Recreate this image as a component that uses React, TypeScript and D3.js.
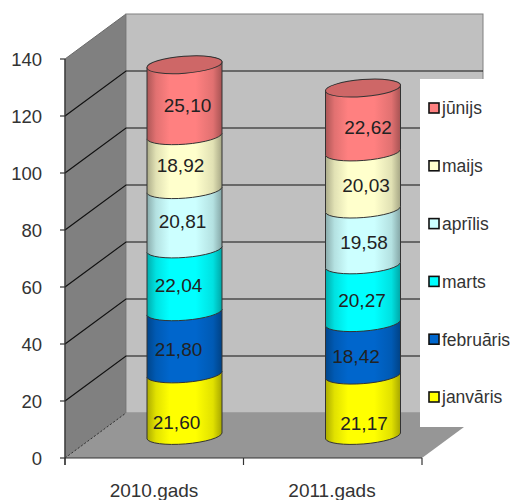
import React from "react";
import * as d3 from "d3";

const years = ["2010.gads", "2011.gads"];
const months = ["janvāris", "februāris", "marts", "aprīlis", "maijs", "jūnijs"];
const values2010 = [21.6, 21.8, 22.04, 20.81, 18.92, 25.1];
const values2011 = [21.17, 18.42, 20.27, 19.58, 20.03, 22.62];
const colors = ["#FFFF00", "#0066CC", "#00FFFF", "#CCFFFF", "#FFFFCC", "#FF8080"];
const yTicks = [0, 20, 40, 60, 80, 100, 120, 140];

// label nudges (layout only), relative to cylinder centre / segment middle
const nudge2010 = [[-8, 17], [-6, 6], [-6, 4], [-2, 1], [-4, 2], [3, 5]];
const nudge2011 = [[1, 17], [-7, 7], [-1, 6], [1, 5], [3, 4], [5, 7]];

const X0 = 65, X1 = 422, DX = 61, DY = 45, Y0 = 458, Y140 = 59, XR = 483;
const y = d3.scaleLinear().domain([0, 140]).range([Y0, Y140]);
const band = d3.scalePoint<string>().domain(years).range([184.5, 363]);
const series = [values2010, values2011];
const nudges = [nudge2010, nudge2011];
const RX = 37.7, RY = 8.5, TILT = -4.5, RISE = 6, HALF = 37.5, FONT = "'Liberation Sans', Arial, sans-serif";
const BASE = 439; // left end of the cylinder foot
const scaleH = (v: number) => Y0 - y(v);

function seg(cx: number, yb: number, yt: number) {
  const L = cx - HALF, R = cx + HALF;
  const arc = `A${RX} ${RY} ${TILT} 0 0`;
  return `M${L} ${yb}${arc} ${R} ${yb - RISE}L${R} ${yt - RISE}${arc} ${L} ${yt}Z`;
}

export default function App() {
  return (
    <svg width={510} height={500} style={{ position: "absolute", left: 0, top: 0, fontFamily: FONT }}>
      <defs>
        {colors.map((c, i) => {
          const d = d3.color(c)!;
          return (
            <linearGradient key={c} id={`g${i}`} x1="0" x2="1" y1="0" y2="0">
              <stop offset="0" stopColor={d.darker(1.1).formatHex()} />
              <stop offset="0.12" stopColor={d.darker(0.35).formatHex()} />
              <stop offset="0.3" stopColor={c} />
              <stop offset="0.65" stopColor={c} />
              <stop offset="0.88" stopColor={d.darker(0.35).formatHex()} />
              <stop offset="1" stopColor={d.darker(1.2).formatHex()} />
            </linearGradient>
          );
        })}
      </defs>
      <polygon points={`${X0},${Y140} ${X0 + DX},${Y140 - DY} ${X0 + DX},${Y0 - DY} ${X0},${Y0}`} fill="#808080" stroke="#6a6a6a" />
      <rect x={X0 + DX} y={Y140 - DY} width={XR - X0 - DX} height={Y0 - Y140} fill="#C0C0C0" stroke="#808080" />
      <polygon points={`${X0},${Y0} ${X0 + DX},${Y0 - DY} ${XR},${Y0 - DY} ${X1},${Y0}`} fill="#969696" />
      <line x1={X0} y1={Y0} x2={X0 + DX} y2={Y0 - DY} stroke="#333" strokeDasharray="2 2" />
      {yTicks.map((t) => (
        <g key={t}>
          {t > 0 && t < 140 && (
            <polyline points={`${X0},${y(t)} ${X0 + DX},${y(t) - DY} ${XR},${y(t) - DY}`} fill="none" stroke="#111" strokeWidth={1.2} />
          )}
          <line x1={X0 - 5} x2={X0} y1={y(t)} y2={y(t)} stroke="#333" strokeWidth={1.2} />
          <text x={42} y={y(t)} dy="0.36em" textAnchor="end" fontSize={18.5} fill="#333">{t}</text>
        </g>
      ))}
      <line x1={X0} x2={X0} y1={Y140} y2={Y0 + 7} stroke="#333" strokeWidth={1.2} />
      <line x1={X0} x2={X1} y1={Y0} y2={Y0} stroke="#333" strokeWidth={1.2} />
      {[X0, (X0 + X1) / 2, X1].map((x) => (
        <line key={x} x1={x} x2={x} y1={Y0} y2={Y0 + 7} stroke="#333" strokeWidth={1.2} />
      ))}
      {years.map((yr, i) => (
        <text key={yr} x={[154, 332][i]} y={497} textAnchor="middle" fontSize={19} fill="#333">{yr}</text>
      ))}

      {years.map((yr, k) => {
        const cx = band(yr)!;
        const vals = series[k];
        const tops = d3.cumsum(vals);
        const total = tops[tops.length - 1];
        const yTop = BASE - scaleH(total);
        return (
          <g key={yr}>
            {vals.map((v, i) => {
              const yb = BASE - scaleH(tops[i] - v);
              const yt = BASE - scaleH(tops[i]);
              return <path key={i} d={seg(cx, yb, yt)} fill={`url(#g${i})`} stroke="#333" strokeWidth={1} />;
            })}
            <ellipse cx={cx} cy={yTop - RISE / 2} rx={RX} ry={RY} transform={`rotate(${TILT} ${cx} ${yTop - RISE / 2})`}
              fill={d3.color(colors[5])!.darker(0.6).formatHex()} stroke="#333" />
            {vals.map((v, i) => {
              const mid = BASE - scaleH(tops[i] - v / 2) - RISE / 2;
              return (
                <text key={i} x={cx + nudges[k][i][0]} y={mid + nudges[k][i][1]} dy="0.36em" textAnchor="middle" fontSize={19} fill="#222">
                  {v.toFixed(2).replace(".", ",")}
                </text>
              );
            })}
          </g>
        );
      })}

      <rect x={420} y={79} width={90} height={348} fill="#fff" />
      {months.map((m, i) => {
        const ly = d3.scaleLinear().domain([0, 5]).range([397, 108])(i);
        return (
          <g key={m}>
            <rect x={429} y={ly - 5} width={10} height={10} fill={colors[i]} stroke="#111" strokeWidth={1.6} />
            <text x={442} y={ly} dy="0.36em" fontSize={17.5} fill="#333">{m}</text>
          </g>
        );
      })}
    </svg>
  );
}
